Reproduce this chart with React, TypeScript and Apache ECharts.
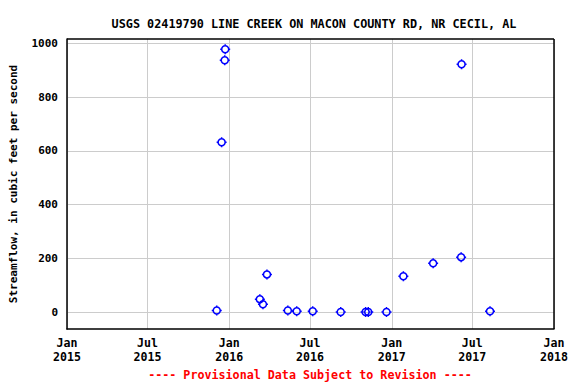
import React, { useEffect, useRef } from "react";
import * as echarts from "echarts";

const TITLE = "USGS 02419790 LINE CREEK ON MACON COUNTY RD, NR CECIL, AL";
const Y_NAME = "Streamflow, in cubic feet per second";
const FOOTER = "---- Provisional Data Subject to Revision ----";

const sampleDates = [
  "2015-12-04", "2015-12-15", "2015-12-22", "2015-12-23",
  "2016-03-10", "2016-03-17", "2016-03-26", "2016-05-12",
  "2016-06-01", "2016-07-07", "2016-09-08", "2016-11-03",
  "2016-11-09", "2016-12-20", "2017-01-27", "2017-04-04",
  "2017-06-06", "2017-06-07", "2017-08-10",
];
const flowValues = [
  7, 632, 937, 978,
  49, 30, 141, 7,
  4, 4, 1, 1,
  1, 1, 134, 182,
  205, 922, 4,
];

const xTickDates = [
  "2015-01-01", "2015-07-01", "2016-01-01", "2016-07-01",
  "2017-01-01", "2017-07-01", "2018-01-01",
];
const monthNames = ["Jan", "Feb", "Mar", "Apr", "May", "Jun", "Jul", "Aug", "Sep", "Oct", "Nov", "Dec"];
const yTicks = [0, 200, 400, 600, 800, 1000];

const ts = (d: string) => Date.parse(d + "T00:00:00Z");
const FONT = "DejaVu Sans Mono";

const MARKER =
  "path://M5,0L5,1.6M5,8.4L5,10M0,5L1.6,5M8.4,5L10,5" +
  "M8.5,5C8.5,6.933 6.933,8.5 5,8.5C3.067,8.5 1.5,6.933 1.5,5C1.5,3.067 3.067,1.5 5,1.5C6.933,1.5 8.5,3.067 8.5,5Z";

export default function App() {
  const ref = useRef<HTMLDivElement>(null);
  useEffect(() => {
    document.body.style.margin = "0";
    if (!ref.current) return;
    const chart = echarts.init(ref.current, null, { renderer: "svg" });
    const xTicks = xTickDates.map(ts);
    chart.setOption({
      animation: false,
      backgroundColor: "#ffffff",
      title: {
        text: TITLE,
        left: 309,
        top: 13,
        textAlign: "center",
        textStyle: { fontFamily: FONT, fontWeight: "bold", fontSize: 11.8, color: "#000" },
      },
      graphic: [
        {
          type: "text",
          x: 310,
          y: 375,
          style: {
            text: FOOTER,
            fill: "#ff0000",
            font: `bold 11.7px "${FONT}"`,
            align: "center",
            verticalAlign: "middle",
          },
        },
      ],
      grid: { left: 66, right: 22, top: 39, bottom: 55, containLabel: false },
      xAxis: {
        type: "value",
        min: ts("2015-01-01"),
        max: ts("2018-01-01"),
        axisLine: { show: true, onZero: false, lineStyle: { color: "#000", width: 1.5 } },
        axisTick: { show: false, customValues: xTicks },
        splitLine: { show: true, lineStyle: { color: "#cccccc", width: 1 } },
        axisLabel: {
          customValues: xTicks,
          showMinLabel: true,
          showMaxLabel: true,
          hideOverlap: false,
          margin: 7,
          fontFamily: FONT,
          fontWeight: "bold",
          fontSize: 11.6,
          color: "#000",
          lineHeight: 14,
          formatter: (v: number) => {
            const d = new Date(v);
            return monthNames[d.getUTCMonth()] + "\n" + d.getUTCFullYear();
          },
        },
      },
      yAxis: {
        type: "value",
        min: -62,
        max: 1016,
        name: Y_NAME,
        nameLocation: "middle",
        nameGap: 48,
        nameTextStyle: { fontFamily: FONT, fontWeight: "bold", fontSize: 11, color: "#000" },
        axisLine: { show: true, onZero: false, lineStyle: { color: "#000", width: 1.5 } },
        axisTick: { show: false, customValues: yTicks },
        splitLine: { show: true, lineStyle: { color: "#cccccc", width: 1 } },
        axisLabel: {
          customValues: yTicks,
          margin: 9,
          fontFamily: FONT,
          fontWeight: "bold",
          fontSize: 11,
          color: "#000",
          formatter: (v: number) => String(v),
        },
      },
      series: [
        {
          type: "scatter",
          data: sampleDates.map((d, i) => [ts(d), flowValues[i]]),
          symbol: MARKER,
          symbolSize: 10,
          itemStyle: { color: "rgba(0,0,0,0)", borderColor: "#0000ff", borderWidth: 1.5, opacity: 1 },
          z: 5,
        },
        {
          type: "line",
          data: [],
          markLine: {
            silent: true,
            symbol: "none",
            label: { show: false },
            lineStyle: { color: "#000", type: "solid", width: 1.5 },
            data: [[{ coord: [ts("2015-01-01"), 1016] }, { coord: [ts("2018-01-01"), 1016] }],
                   [{ coord: [ts("2018-01-01"), -62] }, { coord: [ts("2018-01-01"), 1016] }]],
          },
        },
      ],
    });
    return () => chart.dispose();
  }, []);
  return <div ref={ref} style={{ width: 576, height: 384 }} />;
}
